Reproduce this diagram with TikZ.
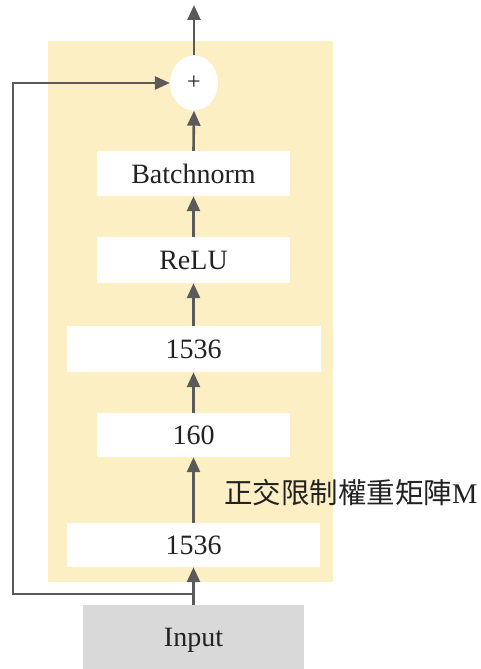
\documentclass[tikz,border=0pt]{standalone}
\usepackage{fontspec}
\setmainfont{Liberation Serif}
\newfontfamily\cjk{Noto Sans CJK TC}
\usetikzlibrary{arrows.meta,shapes.geometric}
\definecolor{panel}{HTML}{FBEFC3}
\definecolor{inbox}{HTML}{D9D9D9}
\definecolor{arr}{HTML}{5A5A5A}
\definecolor{txt}{HTML}{222222}
\begin{document}
\begin{tikzpicture}[x=1pt,y=-1pt,
  blk/.style={fill=white,draw=none,inner sep=0pt,font=\fontsize{28}{30}\selectfont,text=txt},
  con/.style={draw=arr,line width=2.6pt,-{Triangle[length=15pt,width=13pt]}}]
\useasboundingbox (0,0) rectangle (481,669);
\fill[panel] (48,41) rectangle (333,582);
\node[blk,fill=inbox,minimum width=221pt,minimum height=70pt] (in) at (193.5,640) {Input};
\node[blk,minimum width=253pt,minimum height=44pt] (l1) at (193.5,545) {1536};
\node[blk,minimum width=193pt,minimum height=44pt] (l2) at (193.5,435) {160};
\node[blk,minimum width=254pt,minimum height=46pt] (l3) at (193.5,349) {1536};
\node[blk,minimum width=193pt,minimum height=46pt] (relu) at (193.5,260) {ReLU};
\node[blk,minimum width=193pt,minimum height=45pt] (bn) at (193.5,173.5) {Batchnorm};
\node[ellipse,fill=white,minimum width=48pt,minimum height=55pt,inner sep=0pt,font=\fontsize{24}{26}\selectfont,text=txt] (plus) at (194,83) {+};
\coordinate (top) at (194,5);
\coordinate (sk) at (193.5,594);
\coordinate (skl) at (13,594);
\coordinate (skt) at (13,83);
\node[anchor=west,inner sep=0pt,text=txt,font=\fontsize{28.5}{30}\selectfont] (lab) at (224,493) {{\cjk 正交限制權重矩陣}M};
\draw[con] (in.north) -- (l1.south);
\draw[con] (l1.north) -- (l2.south);
\draw[con] (l2.north) -- (l3.south);
\draw[con] (l3.north) -- (relu.south);
\draw[con] (relu.north) -- (bn.south);
\draw[con] (bn.north) -- (plus.south);
\draw[con] (plus.north) -- (top);
\draw[con] (sk) -- (skl) -- (skt) -- (plus.west);
\end{tikzpicture}
\end{document}
